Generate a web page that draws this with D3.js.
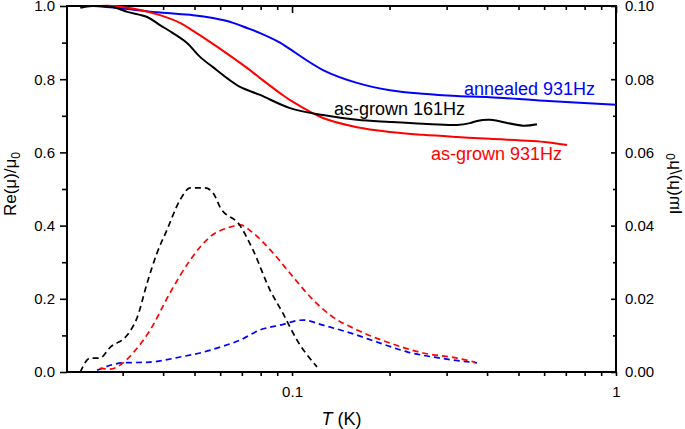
<!DOCTYPE html>
<html>
<head>
<meta charset="utf-8">
<script src="https://cdn.jsdelivr.net/npm/d3@7"></script>
<style>
  body { margin: 0; background: #fff; }
  text { font-family: "Liberation Sans", Arial, sans-serif; }
</style>
</head>
<body>
<script>
var svgWidth = 685;
var svgHeight = 429;

var Margins = { top: 6, right: 69, bot: 57, left: 67 };

// Re(mu)/mu0, solid lines (left axis)
var grown161T   = [0.0222, 0.0230, 0.0243, 0.0280, 0.0310, 0.0357, 0.0391, 0.0429, 0.0474, 0.0520, 0.0570, 0.0630, 0.0691, 0.0797, 0.0986, 0.1246, 0.1587, 0.2007, 0.2537, 0.3230, 0.3542, 0.3723, 0.4083, 0.5164, 0.5702];
var grown161Re  = [0.995, 0.998, 1.0, 0.997, 0.984, 0.970, 0.948, 0.926, 0.899, 0.861, 0.833, 0.803, 0.779, 0.757, 0.721, 0.702, 0.689, 0.683, 0.678, 0.675, 0.680, 0.686, 0.689, 0.673, 0.677];

var grown931T   = [0.0255, 0.0280, 0.0340, 0.0391, 0.0451, 0.0495, 0.0558, 0.0630, 0.0726, 0.0797, 0.0918, 0.0986, 0.1246, 0.1587, 0.2007, 0.2537, 0.3230, 0.4083, 0.6124, 0.7061];
var grown931Re  = [1.0, 1.0, 0.989, 0.975, 0.954, 0.932, 0.902, 0.870, 0.831, 0.803, 0.762, 0.743, 0.694, 0.669, 0.656, 0.648, 0.642, 0.637, 0.628, 0.620];

var anneal931T  = [0.0233, 0.0243, 0.0310, 0.0391, 0.0495, 0.0570, 0.0658, 0.0726, 0.0797, 0.0918, 0.0986, 0.1246, 0.1587, 0.2007, 0.2537, 0.3230, 0.4083, 0.6000, 1.0];
var anneal931Re = [1.0, 1.0, 0.992, 0.982, 0.975, 0.967, 0.954, 0.940, 0.926, 0.900, 0.882, 0.825, 0.790, 0.770, 0.760, 0.754, 0.751, 0.741, 0.730];

// Im(mu)/mu0, dashed lines (right axis)
var grown161ImT = [0.0222, 0.0238, 0.0255, 0.0275, 0.0310, 0.0333, 0.0357, 0.0383, 0.0411, 0.0451, 0.0485, 0.0539, 0.0570, 0.0600, 0.0691, 0.0758, 0.0855, 0.0938, 0.1036, 0.1194];
var grown161Im  = [0.0, 0.0038, 0.0038, 0.0068, 0.0101, 0.015, 0.0243, 0.0325, 0.0388, 0.047, 0.0503, 0.0503, 0.049, 0.045, 0.040, 0.0333, 0.0224, 0.016, 0.0087, 0.0014];

var grown931ImT = [0.0255, 0.0275, 0.0301, 0.0323, 0.0365, 0.0420, 0.0485, 0.0558, 0.0644, 0.0691, 0.0758, 0.0874, 0.1007, 0.1161, 0.1338, 0.1587, 0.2007, 0.2537, 0.3230, 0.3671];
var grown931Im  = [0.001, 0.0008, 0.0025, 0.0052, 0.0115, 0.0216, 0.0306, 0.0369, 0.0396, 0.0402, 0.038, 0.0325, 0.026, 0.0197, 0.015, 0.0115, 0.0079, 0.0052, 0.0038, 0.0027];

var anneal931ImT = [0.0250, 0.0301, 0.0365, 0.0451, 0.0520, 0.0600, 0.0691, 0.0797, 0.0918, 0.1081, 0.1246, 0.1510, 0.1869, 0.2265, 0.2862, 0.3723];
var anneal931Im  = [0.0005, 0.0025, 0.0027, 0.0041, 0.0052, 0.0068, 0.0087, 0.0115, 0.0128, 0.0142, 0.0128, 0.0107, 0.0079, 0.0055, 0.0038, 0.0025];

var xMajor = [0.1, 1];
var xMinor = [0.03, 0.04, 0.05, 0.06, 0.07, 0.08, 0.09, 0.2, 0.3, 0.4, 0.5, 0.6, 0.7, 0.8, 0.9];
var leftMajor = [0, 0.2, 0.4, 0.6, 0.8, 1.0];
var leftMinor = [0.1, 0.3, 0.5, 0.7, 0.9];
var rightMajor = [0, 0.02, 0.04, 0.06, 0.08, 0.10];
var rightMinor = [0.01, 0.03, 0.05, 0.07, 0.09];

var WidthOfChart = svgWidth - Margins.left - Margins.right;
var HeightOfChart = svgHeight - Margins.top - Margins.bot;

var svg = d3.select("body")
  .append("svg")
  .attr("width", svgWidth)
  .attr("height", svgHeight);

var chartGroup = svg.append("g")
  .attr("transform", `translate(${Margins.left}, ${Margins.top})`);

var xAxe = d3.scaleLog().domain([0.0202, 1]).range([0, WidthOfChart]);
var yLAxe = d3.scaleLinear().domain([0, 1]).range([HeightOfChart, 0]);
var yRAxe = d3.scaleLinear().domain([0, 0.1]).range([HeightOfChart, 0]);

function styleAxis(g) {
  g.select(".domain").remove();
  g.selectAll("line").attr("stroke", "#000").attr("stroke-width", 1.6);
  g.selectAll("text").style("font-size", "15px").style("font-family", "Liberation Sans, Arial, sans-serif").attr("fill", "#000");
}

// bottom
chartGroup.append("g")
  .attr("transform", `translate(0, ${HeightOfChart})`)
  .call(d3.axisBottom(xAxe).tickValues(xMajor).tickSize(4).tickPadding(10).tickFormat(d3.format("")))
  .call(styleAxis);
chartGroup.append("g")
  .attr("transform", `translate(0, ${HeightOfChart})`)
  .call(d3.axisBottom(xAxe).tickValues(xMinor).tickSize(4).tickFormat(""))
  .call(styleAxis);
// top (inward)
chartGroup.append("g")
  .call(d3.axisTop(xAxe).tickValues(xMajor).tickSize(-7).tickFormat(""))
  .call(styleAxis);
chartGroup.append("g")
  .call(d3.axisTop(xAxe).tickValues(xMinor).tickSize(-4).tickFormat(""))
  .call(styleAxis);
// left
chartGroup.append("g")
  .call(d3.axisLeft(yLAxe).tickValues(leftMajor).tickSize(7).tickPadding(5).tickFormat(d3.format(".1f")))
  .call(styleAxis);
chartGroup.append("g")
  .call(d3.axisLeft(yLAxe).tickValues(leftMinor).tickSize(5).tickFormat(""))
  .call(styleAxis);
// right (inward ticks)
chartGroup.append("g")
  .attr("transform", `translate(${WidthOfChart}, 0)`)
  .call(d3.axisRight(yRAxe).tickValues(rightMajor).tickSize(-5).tickPadding(9).tickFormat(d3.format(".2f")))
  .call(styleAxis);
chartGroup.append("g")
  .attr("transform", `translate(${WidthOfChart}, 0)`)
  .call(d3.axisRight(yRAxe).tickValues(rightMinor).tickSize(-3).tickFormat(""))
  .call(styleAxis);

chartGroup.append("rect")
  .attr("width", WidthOfChart)
  .attr("height", HeightOfChart)
  .attr("fill", "none")
  .attr("stroke", "#000")
  .attr("stroke-width", 2);

var plotArea = chartGroup.append("g");

function drawLine(ts, vs, yScale, color, dashed) {
  var pts = ts.map((t, i) => [t, vs[i]]);
  var line = d3.line()
    .x(d => xAxe(d[0]))
    .y(d => yScale(d[1]))
    .curve(dashed ? d3.curveMonotoneX : d3.curveCatmullRom.alpha(0.5));
  plotArea.append("path")
    .datum(pts)
    .attr("d", line)
    .attr("fill", "none")
    .attr("stroke", color)
    .attr("stroke-width", dashed ? 1.7 : 2)
    .attr("stroke-dasharray", dashed ? "6,4" : null);
}

drawLine(anneal931T, anneal931Re, yLAxe, "#0000ff", false);
drawLine(grown931T, grown931Re, yLAxe, "#ff0000", false);
drawLine(grown161T, grown161Re, yLAxe, "#000000", false);
drawLine(anneal931ImT, anneal931Im, yRAxe, "#0000ff", true);
drawLine(grown931ImT, grown931Im, yRAxe, "#ff0000", true);
drawLine(grown161ImT, grown161Im, yRAxe, "#000000", true);

// curve labels
svg.append("text").attr("x", 464).attr("y", 95).attr("fill", "#0000ff")
  .style("font-size", "18px").text("annealed 931Hz");
svg.append("text").attr("x", 334).attr("y", 115).attr("fill", "#000")
  .style("font-size", "18px").text("as-grown 161Hz");
svg.append("text").attr("x", 431).attr("y", 160).attr("fill", "#ff0000")
  .style("font-size", "18px").text("as-grown 931Hz");

// axis titles
var xt = svg.append("text")
  .attr("x", Margins.left + WidthOfChart / 2)
  .attr("y", 425)
  .style("text-anchor", "middle")
  .style("font-size", "18px");
xt.append("tspan").style("font-style", "italic").text("T");
xt.append("tspan").text(" (K)");

var lt = svg.append("text")
  .attr("transform", "translate(16, 184) rotate(-90)")
  .style("text-anchor", "middle")
  .style("font-size", "17px");
lt.append("tspan").text("Re(\u03bc)/\u03bc");
lt.append("tspan").attr("dy", 4).style("font-size", "12px").text("0");

var rt = svg.append("text")
  .attr("transform", "translate(670, 184) rotate(-90) scale(1,-1)")
  .style("text-anchor", "middle")
  .style("font-size", "17px");
rt.append("tspan").text("Im(\u03bc)/\u03bc");
rt.append("tspan").attr("dy", 4).style("font-size", "12px").text("0");
</script>
</body>
</html>
